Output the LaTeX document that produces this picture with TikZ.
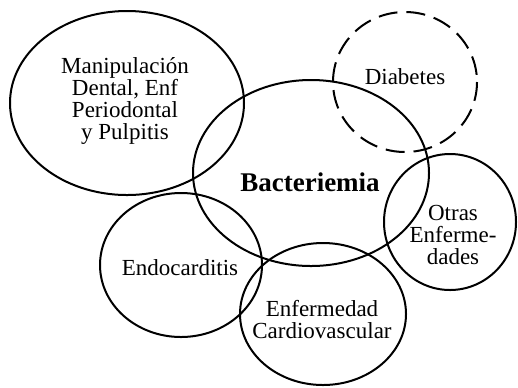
\documentclass[tikz,border=0pt]{standalone}
\usepackage{fontspec}
\setmainfont{Liberation Serif}
\usetikzlibrary{positioning}

\tikzset{
  setline/.style={line width=1pt},
  settext/.style={align=center, font=\fontsize{11.5}{11}\selectfont, inner sep=1pt}
}

\begin{document}
\begin{tikzpicture}[x=0.5pt, y=-0.5pt, line join=round, line cap=round]
    \useasboundingbox (0,0) rectangle (518,387);

    % Ellipsen
    \draw[setline] (127,103) ellipse (117 and 92);
    \draw[setline] (311,173) ellipse (118 and 93);
    \draw[setline, dash pattern=on 9.5pt off 4.5pt, line cap=butt] (405,82) ellipse (72 and 70);
    \draw[setline] (450,222) ellipse (66 and 68);
    \draw[setline] (181,265) ellipse (81 and 72);
    \draw[setline] (323,314) ellipse (83 and 71);

    % Texte
    \node[settext] (manip) at (125,101) {Manipulación\\Dental, Enf\\Periodontal\\y Pulpitis};
    \node[settext] (diab) at (405,77) {Diabetes};
    \node[settext, font=\fontsize{13.5}{14}\selectfont\bfseries] (bact) at (310,182) {Bacteriemia};
    \node[settext] (otras) at (453,235) {Otras\\Enferme-\\dades};
    \node[settext] (endo) at (180,268) {Endocarditis};
    \node[settext] (cardio) at (322,320) {Enfermedad\\Cardiovascular};
\end{tikzpicture}
\end{document}
